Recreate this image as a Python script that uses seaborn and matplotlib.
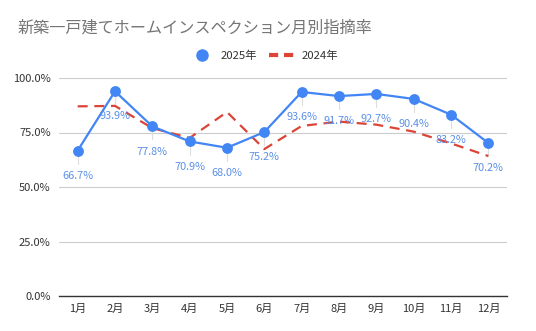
import matplotlib
matplotlib.use("Agg")
import matplotlib.pyplot as plt
import seaborn as sns
import pandas as pd
from matplotlib.ticker import FuncFormatter
from matplotlib.lines import Line2D

months = ["1月", "2月", "3月", "4月", "5月", "6月", "7月", "8月", "9月", "10月", "11月", "12月"]
rate_2025 = [66.7, 93.9, 77.8, 70.9, 68.0, 75.2, 93.6, 91.7, 92.7, 90.4, 83.2, 70.2]
rate_2024 = [87.0, 87.2, 77.0, 72.5, 84.4, 67.4, 78.0, 80.0, 78.6, 75.4, 70.0, 64.2]
yticks = [0, 25, 50, 75, 100]
title = "新築一戸建てホームインスペクション月別指摘率"
series_names = ["2025年", "2024年"]

sns.set_theme(style="white")
plt.rcParams["font.family"] = ["Noto Sans CJK JP", "DejaVu Sans"]

blue = "#4285F4"
red = "#DB4437"

df = pd.DataFrame({
    "month": list(range(12)) * 2,
    "rate": rate_2025 + rate_2024,
    "series": [series_names[0]] * 12 + [series_names[1]] * 12,
})

fig = plt.figure(figsize=(5.36, 3.31), dpi=100)
ax = fig.add_axes([59 / 536, 1 - 296 / 331, (507 - 59) / 536, (296 - 78) / 331])

d24 = df[df.series == series_names[1]]
d25 = df[df.series == series_names[0]]
sns.lineplot(data=d24, x="month", y="rate", ax=ax, color=red, linewidth=1.6,
             dashes=False, legend=False)
ax.lines[-1].set_dashes([4.5, 3])
sns.lineplot(data=d25, x="month", y="rate", ax=ax, color=blue, linewidth=1.6,
             marker="o", markersize=7.8, markeredgewidth=0, legend=False)

for i, v in enumerate(rate_2025):
    ax.plot([i, i], [v - 2.5, v - 6.0], color="#dddddd", linewidth=0.8, zorder=1)
    ax.annotate(f"{v:.1f}%", (i, v), xytext=(0, -14.5), textcoords="offset points",
                ha="center", va="top", fontsize=7.8, color="#5b8fe8")

ax.set_xlim(-0.5, 11.5)
ax.set_ylim(0, 100)
ax.set_yticks(yticks)
ax.yaxis.set_major_formatter(FuncFormatter(lambda v, p: f"{v:.1f}%"))
ax.set_xticks(range(12))
ax.set_xticklabels(months)
ax.tick_params(axis="both", labelsize=8, colors="#333333", length=0, pad=6)
ax.set_xlabel("")
ax.set_ylabel("")
ax.grid(axis="y", color="#cccccc", linewidth=0.8)
ax.grid(axis="x", visible=False)
for s in ["top", "right", "left"]:
    ax.spines[s].set_visible(False)
ax.spines["bottom"].set_color("#333333")
ax.spines["bottom"].set_linewidth(1)

fig.text(18 / 536, 1 - 28 / 331, title, fontsize=11.6, color="#757575", va="center", ha="left")

handles = [
    Line2D([], [], color=blue, marker="o", linestyle="none", markersize=8),
    Line2D([], [], color=red, linestyle=(0, (2.2, 1.4)), linewidth=3),
]
fig.legend(handles, series_names, loc="center", bbox_to_anchor=(263 / 536, 1 - 56 / 331),
           ncol=2, frameon=False, fontsize=8.2, handlelength=2.5, columnspacing=1.0,
           handletextpad=0.4, labelcolor="#333333")

fig.savefig("out.png", dpi=100, facecolor="white")
